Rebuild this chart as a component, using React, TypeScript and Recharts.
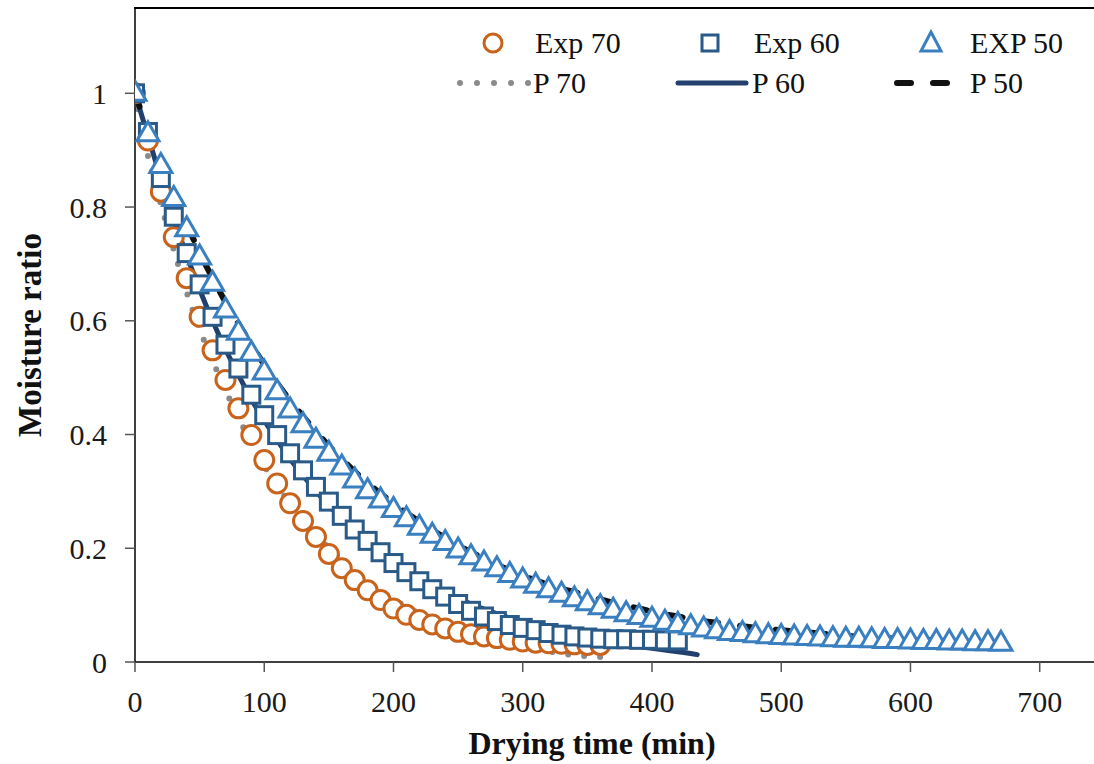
import { ComposedChart, Line, Scatter, XAxis, YAxis } from 'recharts'

// drying time (min) sampled every 10 min
const TIME_70 = [0, 10, 20, 30, 40, 50, 60, 70, 80, 90, 100, 110, 120, 130, 140, 150, 160, 170, 180, 190, 200, 210, 220, 230, 240, 250, 260, 270, 280, 290, 300, 310, 320, 330, 340, 350, 360]
const TIME_60 = [0, 10, 20, 30, 40, 50, 60, 70, 80, 90, 100, 110, 120, 130, 140, 150, 160, 170, 180, 190, 200, 210, 220, 230, 240, 250, 260, 270, 280, 290, 300, 310, 320, 330, 340, 350, 360, 370, 380, 390, 400, 410, 420]
const TIME_P60 = [0, 10, 20, 30, 40, 50, 60, 70, 80, 90, 100, 110, 120, 130, 140, 150, 160, 170, 180, 190, 200, 210, 220, 230, 240, 250, 260, 270, 280, 290, 300, 310, 320, 330, 340, 350, 360, 370, 380, 390, 400, 410, 420, 430, 435]
const TIME_50 = [0, 10, 20, 30, 40, 50, 60, 70, 80, 90, 100, 110, 120, 130, 140, 150, 160, 170, 180, 190, 200, 210, 220, 230, 240, 250, 260, 270, 280, 290, 300, 310, 320, 330, 340, 350, 360, 370, 380, 390, 400, 410, 420, 430, 440, 450, 460, 470, 480, 490, 500, 510, 520, 530, 540, 550, 560, 570, 580, 590, 600, 610, 620, 630, 640, 650, 660, 670]

const EXP_70 = [1.0, 0.917, 0.827, 0.747, 0.675, 0.607, 0.548, 0.496, 0.446, 0.399, 0.355, 0.314, 0.279, 0.248, 0.22, 0.19, 0.165, 0.144, 0.126, 0.109, 0.094, 0.083, 0.074, 0.066, 0.059, 0.053, 0.049, 0.045, 0.042, 0.039, 0.036, 0.034, 0.033, 0.032, 0.031, 0.03, 0.03]
const PRED_70 = [1.0, 0.89, 0.805, 0.725, 0.65, 0.585, 0.53, 0.478, 0.43, 0.385, 0.345, 0.31, 0.278, 0.25, 0.224, 0.2, 0.179, 0.159, 0.141, 0.125, 0.11, 0.097, 0.085, 0.075, 0.066, 0.058, 0.051, 0.045, 0.039, 0.034, 0.029, 0.024, 0.019, 0.015, 0.012, 0.01, 0.009]
const EXP_60 = [1.0, 0.932, 0.851, 0.783, 0.719, 0.664, 0.607, 0.558, 0.516, 0.47, 0.434, 0.399, 0.367, 0.337, 0.308, 0.282, 0.257, 0.233, 0.213, 0.193, 0.174, 0.158, 0.142, 0.128, 0.115, 0.102, 0.09, 0.08, 0.072, 0.065, 0.06, 0.056, 0.051, 0.048, 0.045, 0.043, 0.041, 0.04, 0.04, 0.039, 0.039, 0.038, 0.038]
const PRED_60 = [1.0, 0.925, 0.85, 0.78, 0.715, 0.655, 0.6, 0.55, 0.505, 0.462, 0.425, 0.39, 0.357, 0.328, 0.3, 0.275, 0.252, 0.231, 0.211, 0.193, 0.177, 0.162, 0.148, 0.135, 0.123, 0.112, 0.102, 0.093, 0.085, 0.077, 0.07, 0.064, 0.058, 0.053, 0.048, 0.043, 0.039, 0.035, 0.031, 0.027, 0.024, 0.021, 0.018, 0.015, 0.013]
const EXP_50 = [1.0, 0.929, 0.873, 0.815, 0.762, 0.712, 0.666, 0.619, 0.58, 0.543, 0.51, 0.475, 0.443, 0.417, 0.39, 0.367, 0.343, 0.32, 0.301, 0.285, 0.268, 0.252, 0.237, 0.223, 0.21, 0.197, 0.185, 0.174, 0.164, 0.154, 0.144, 0.135, 0.127, 0.119, 0.111, 0.104, 0.097, 0.091, 0.085, 0.08, 0.075, 0.07, 0.066, 0.062, 0.058, 0.055, 0.052, 0.05, 0.048, 0.046, 0.045, 0.044, 0.043, 0.042, 0.041, 0.04, 0.04, 0.039, 0.038, 0.038, 0.037, 0.036, 0.036, 0.035, 0.035, 0.034, 0.034, 0.033]
const PRED_50 = [1.0, 0.935, 0.875, 0.82, 0.77, 0.72, 0.675, 0.633, 0.595, 0.558, 0.523, 0.49, 0.46, 0.432, 0.405, 0.38, 0.357, 0.335, 0.315, 0.296, 0.279, 0.262, 0.247, 0.232, 0.218, 0.205, 0.193, 0.182, 0.171, 0.161, 0.152, 0.143, 0.136, 0.129, 0.123, 0.117, 0.11, 0.104, 0.099, 0.094, 0.089, 0.084, 0.08, 0.076, 0.072, 0.069, 0.066, 0.063, 0.06, 0.058, 0.056, 0.054, 0.052, 0.05, 0.048, 0.046, 0.045, 0.044, 0.042, 0.041, 0.04, 0.039, 0.038, 0.037, 0.036, 0.035, 0.034, 0.033]

const X_TICKS = [0, 100, 200, 300, 400, 500, 600, 700]
const Y_TICKS = [0, 0.2, 0.4, 0.6, 0.8, 1]

const zip = (ts: number[], vs: number[]) => ts.map((t, i) => ({ t, v: vs[i] }))

const FONT = '"Liberation Serif", "Times New Roman", serif'
const ORANGE = '#c9631c'
const NAVY_SQ = '#2a5a88'
const BLUE_TRI = '#3a7fc0'
const GREY = '#8a8a8a'
const NAVY_LINE = '#22406e'

const Circle = (p: any) => (
  <circle cx={p.cx} cy={p.cy} r={9.5} fill="#fff" stroke={ORANGE} strokeWidth={3} />
)
const Square = (p: any) => (
  <rect x={p.cx - 8.5} y={p.cy - 8.5} width={17} height={17} fill="#fff" stroke={NAVY_SQ} strokeWidth={3} />
)
const Triangle = (p: any) => (
  <polygon
    points={`${p.cx},${p.cy - 12} ${p.cx - 11},${p.cy + 7} ${p.cx + 11},${p.cy + 7}`}
    fill="#fff"
    stroke={BLUE_TRI}
    strokeWidth={3}
  />
)

const XTitle = () => (
  <text x={592} y={754} textAnchor="middle" fontFamily={FONT} fontWeight="bold" fontSize={32} fill="#111">
    Drying time (min)
  </text>
)
const YTitle = () => (
  <text
    x={30}
    y={335}
    transform="rotate(-90 30 335)"
    textAnchor="middle"
    dominantBaseline="central"
    fontFamily={FONT}
    fontWeight="bold"
    fontSize={33}
    fill="#111"
  >
    Moisture ratio
  </text>
)

const LegendBox = () => {
  const txt = { fontFamily: FONT, fontSize: 30, fill: '#111' }
  return (
    <svg width={654} height={100} style={{ position: 'absolute', left: 440, top: 20 }}>
      <circle cx={53} cy={23} r={9} fill="#fff" stroke={ORANGE} strokeWidth={3} />
      <text x={95} y={33} {...txt}>Exp 70</text>
      <rect x={262} y={15} width={16} height={16} fill="#fff" stroke={NAVY_SQ} strokeWidth={3} />
      <text x={314} y={33} {...txt}>Exp 60</text>
      <polygon points="491,12 481,31 501,31" fill="#fff" stroke={BLUE_TRI} strokeWidth={3} />
      <text x={530} y={33} {...txt}>EXP 50</text>

      <line x1={20} y1={63} x2={90} y2={63} stroke={GREY} strokeWidth={6} strokeDasharray="0 17" strokeLinecap="round" />
      <text x={93} y={73} {...txt}>P 70</text>
      <line x1={238} y1={63} x2={306} y2={63} stroke={NAVY_LINE} strokeWidth={5} strokeLinecap="round" />
      <text x={312} y={73} {...txt}>P 60</text>
      <line x1={457} y1={63} x2={511} y2={63} stroke="#111" strokeWidth={6} strokeDasharray="14 22" strokeLinecap="round" />
      <text x={530} y={73} {...txt}>P 50</text>
    </svg>
  )
}

export default function App() {
  const tickStyle = { fill: '#1a1a1a', fontSize: 30, fontFamily: FONT }
  return (
    <div style={{ position: 'absolute', left: 0, top: 0, width: 1094, height: 764, background: '#fff' }}>
      <ComposedChart width={1094} height={764} margin={{ top: 8, right: 0, bottom: 0, left: 0 }}>
        <XAxis
          type="number"
          dataKey="t"
          domain={[0, 742]}
          ticks={X_TICKS}
          allowDataOverflow
          height={102}
          tickSize={10}
          tickMargin={19}
          tick={tickStyle}
          axisLine={{ stroke: '#000', strokeWidth: 1.5 }}
          tickLine={{ stroke: '#555', strokeWidth: 1.5 }}
          label={{ content: XTitle }}
        />
        <YAxis
          type="number"
          dataKey="v"
          domain={[0, 1.15]}
          ticks={Y_TICKS}
          allowDataOverflow
          width={135}
          tickSize={10}
          tickMargin={18}
          tick={tickStyle}
          axisLine={{ stroke: '#000', strokeWidth: 1.5 }}
          tickLine={{ stroke: '#555', strokeWidth: 1.5 }}
          label={{ content: YTitle }}
        />

        <Line data={zip(TIME_70, PRED_70)} dataKey="v" type="monotone" stroke={GREY} strokeWidth={6} strokeDasharray="0 16" strokeLinecap="round" dot={false} isAnimationActive={false} name="P 70" />
        <Line data={zip(TIME_P60, PRED_60)} dataKey="v" type="monotone" stroke={NAVY_LINE} strokeWidth={5} strokeLinecap="round" dot={false} isAnimationActive={false} name="P 60" />
        <Line data={zip(TIME_50, PRED_50)} dataKey="v" type="monotone" stroke="#111" strokeWidth={6} strokeDasharray="14 22" strokeLinecap="round" dot={false} isAnimationActive={false} name="P 50" />

        <Scatter data={zip(TIME_70, EXP_70)} dataKey="v" shape={Circle} isAnimationActive={false} name="Exp 70" />
        <Scatter data={zip(TIME_60, EXP_60)} dataKey="v" shape={Square} isAnimationActive={false} name="Exp 60" />
        <Scatter data={zip(TIME_50, EXP_50)} dataKey="v" shape={Triangle} isAnimationActive={false} name="EXP 50" />
      </ComposedChart>
      {/* top frame line of the plot box */}
      <div style={{ position: 'absolute', left: 134, top: 7, width: 960, height: 2, background: '#000' }} />
      <LegendBox />
    </div>
  )
}
